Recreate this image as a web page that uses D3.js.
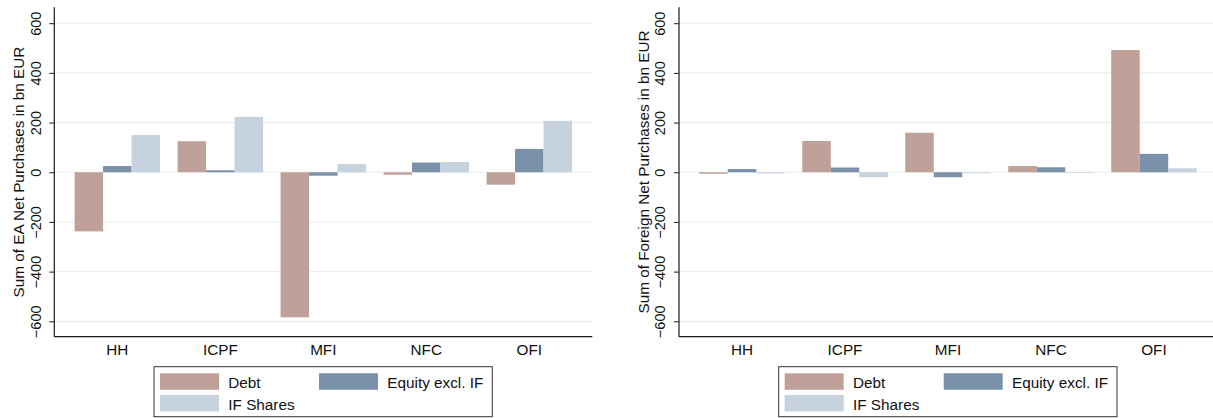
<!DOCTYPE html>
<html>
<head>
<meta charset="utf-8">
<script src="https://cdn.jsdelivr.net/npm/d3@7"></script>
<style>
  html, body { margin: 0; padding: 0; background: #fff; }
  svg { display: block; font-family: "Liberation Sans", Arial, Helvetica, sans-serif; }
</style>
</head>
<body>
<svg id="chart" width="1213" height="418"></svg>
<script>
const categories = ["HH", "ICPF", "MFI", "NFC", "OFI"];
const seriesNames = ["Debt", "Equity excl. IF", "IF Shares"];
const seriesColors = ["#bfa19a", "#7b91a9", "#c6d3df"];
const yTicks = [-600, -400, -200, 0, 200, 400, 600];

// Left panel: EA net purchases (bn EUR)
const eaDebt   = [-238, 125, -584, -10, -50];
const eaEquity = [25, 8, -14, 39, 94];
const eaIF     = [150, 223, 33, 41, 207];

// Right panel: Foreign net purchases (bn EUR)
const fnDebt   = [-6, 126, 159, 25, 492];
const fnEquity = [13, 19, -20, 20, 74];
const fnIF     = [-5, -20, -4, -3, 16];

const panels = [
  { title: "Sum of EA Net Purchases in bn EUR", values: [eaDebt, eaEquity, eaIF], x0: 54.3 },
  { title: "Sum of Foreign Net Purchases in bn EUR", values: [fnDebt, fnEquity, fnIF], x0: 679 }
];

const svg = d3.select("#chart");
const plotW = 538;
const yTop = 7.3, yBot = 336.7;
const fontSize = 15.3;
const tickFont = 14.5;

const y = d3.scaleLinear().domain([-662, 664]).range([yBot, yTop]);

panels.forEach(p => {
  const g = svg.append("g");
  const x0 = p.x0, x1 = p.x0 + plotW;

  const x = d3.scaleBand().domain(categories).range([x0, x1])
    .paddingInner(0.17).paddingOuter(0.197);
  const xs = d3.scaleBand().domain(seriesNames).range([0, x.bandwidth()]).padding(0);

  // gridlines
  g.append("g").selectAll("line").data(yTicks).join("line")
    .attr("x1", x0 + 1).attr("x2", x1)
    .attr("y1", d => y(d)).attr("y2", d => y(d))
    .attr("stroke", "#e7eff0").attr("stroke-width", 1.2);

  // bars
  const rows = [];
  categories.forEach((c, i) => {
    seriesNames.forEach((s, j) => rows.push({ c, s, j, v: p.values[j][i] }));
  });
  g.append("g").selectAll("rect").data(rows).join("rect")
    .attr("x", d => x(d.c) + xs(d.s))
    .attr("width", xs.bandwidth())
    .attr("y", d => y(Math.max(0, d.v)))
    .attr("height", d => Math.abs(y(d.v) - y(0)))
    .attr("fill", d => seriesColors[d.j]);

  // y axis
  const yAxis = d3.axisLeft(y).tickValues(yTicks).tickSize(5).tickFormat(d => d < 0 ? "\u2212" + Math.abs(d) : d);
  const ya = g.append("g").attr("transform", `translate(${x0},0)`).call(yAxis);
  ya.attr("font-size", null).attr("font-family", null);
  ya.select(".domain").attr("d", `M-0,${yTop}V${yBot}`).attr("stroke", "#1a1a1a").attr("stroke-width", 1.2);
  ya.selectAll(".tick line").attr("stroke", "#1a1a1a").attr("stroke-width", 1);
  ya.selectAll(".tick text")
    .attr("x", null).attr("dy", null)
    .attr("transform", "translate(-13.8,0) rotate(-90)")
    .attr("text-anchor", "middle")
    .style("font-size", tickFont + "px")
    .attr("fill", "#111");

  // x axis
  const xAxis = d3.axisBottom(x).tickSize(0).tickPadding(0);
  const xa = g.append("g").attr("transform", `translate(0,${yBot})`).call(xAxis);
  xa.attr("font-size", null).attr("font-family", null);
  xa.select(".domain").attr("d", `M${x0},0H${x1}`).attr("stroke", "#1a1a1a").attr("stroke-width", 1.2);
  xa.selectAll(".tick text")
    .attr("y", 18).attr("dy", null)
    .style("font-size", fontSize + "px")
    .attr("fill", "#111");

  // y title
  g.append("text")
    .attr("transform", `translate(${x0 - 30.5},${(yTop + yBot) / 2}) rotate(-90)`)
    .attr("text-anchor", "middle")
    .style("font-size", fontSize + "px")
    .attr("fill", "#111")
    .text(p.title);

  // legend
  const lx = x0 + 99.7, ly = 366.7, lw = 338.3, lh = 50;
  g.append("rect").attr("x", lx).attr("y", ly).attr("width", lw).attr("height", lh)
    .attr("fill", "none").attr("stroke", "#333").attr("stroke-width", 1);
  const legPos = [
    { dx: 6, dy: 6.6 },
    { dx: 165, dy: 6.6 },
    { dx: 6, dy: 28.3 }
  ];
  seriesNames.forEach((s, j) => {
    const lp = legPos[j];
    g.append("rect")
      .attr("x", lx + lp.dx).attr("y", ly + lp.dy)
      .attr("width", 59).attr("height", 16.5)
      .attr("fill", seriesColors[j]);
    g.append("text")
      .attr("x", lx + lp.dx + 68.3).attr("y", ly + lp.dy + 15)
      .style("font-size", fontSize + "px").attr("fill", "#111")
      .text(s);
  });
});
</script>
</body>
</html>
